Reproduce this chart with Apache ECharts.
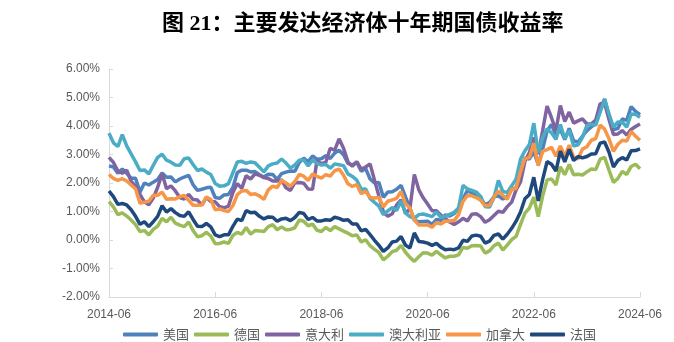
<!DOCTYPE html>
<html>
<head>
<meta charset="utf-8">
<script src="https://cdn.jsdelivr.net/npm/echarts@6/dist/echarts.min.js"></script>
<style>html,body{margin:0;padding:0;background:#fff}#c{width:674px;height:342px}</style>
</head>
<body>
<div id="c"></div>
<script>
// Monthly categories 2014-06 .. 2024-06
const categories = [];
for (let y = 2014, m = 6; y < 2024 || (y === 2024 && m <= 6); ) {
  categories.push(y + '-' + (m < 10 ? '0' + m : m));
  m++; if (m > 12) { m = 1; y++; }
}
const xTickLabels = ['2014-06','2016-06','2018-06','2020-06','2022-06','2024-06'];
const seriesNames = ['美国','德国','意大利','澳大利亚','加拿大','法国'];

const us = [2.60,2.56,2.34,2.49,2.34,2.17,2.17,
1.68,2.00,1.93,2.03,2.12,2.35,2.20,2.21,2.04,2.14,2.21,2.27,
1.94,1.74,1.78,1.83,1.85,1.49,1.46,1.58,1.60,1.84,2.37,2.45,
2.45,2.39,2.40,2.29,2.21,2.31,2.30,2.12,2.33,2.38,2.42,2.41,
2.72,2.87,2.74,2.95,2.83,2.85,2.96,2.86,3.05,3.15,2.99,2.69,
2.63,2.73,2.41,2.51,2.14,2.00,2.02,1.50,1.68,1.69,1.78,1.92,
1.51,1.13,0.70,0.64,0.65,0.66,0.55,0.72,0.69,0.88,0.84,0.93,
1.11,1.44,1.74,1.65,1.58,1.45,1.24,1.31,1.52,1.55,1.44,1.52,
1.79,1.83,2.32,2.89,2.84,3.10,2.65,3.19,3.83,4.05,3.68,3.88,
3.52,3.92,3.48,3.44,3.64,3.84,3.97,4.11,4.59,4.95,4.37,3.88,
3.91,4.25,4.20,4.68,4.51,4.40];

const de = [1.35,1.16,0.89,0.95,0.84,0.70,0.54,
0.30,0.33,0.18,0.37,0.49,0.76,0.64,0.80,0.59,0.52,0.47,0.63,
0.33,0.11,0.15,0.27,0.14,-0.13,-0.12,-0.07,-0.12,0.16,0.27,0.21,
0.44,0.21,0.33,0.32,0.30,0.47,0.54,0.36,0.46,0.36,0.37,0.43,
0.70,0.66,0.50,0.56,0.34,0.30,0.44,0.33,0.47,0.39,0.31,0.24,
0.15,0.18,-0.07,0.01,-0.20,-0.33,-0.44,-0.70,-0.57,-0.41,-0.36,-0.19,
-0.43,-0.61,-0.75,-0.59,-0.45,-0.46,-0.53,-0.40,-0.52,-0.63,-0.57,-0.57,
-0.52,-0.26,-0.29,-0.20,-0.19,-0.21,-0.46,-0.38,-0.20,-0.11,-0.35,-0.18,
0.01,0.13,0.55,0.94,1.12,1.50,0.82,1.54,2.11,2.14,1.93,2.57,
2.29,2.65,2.29,2.31,2.28,2.39,2.49,2.47,2.84,2.90,2.45,2.02,
2.16,2.41,2.30,2.58,2.66,2.50];

const it = [2.90,2.72,2.43,2.34,2.45,2.06,1.89,
1.60,1.34,1.24,1.47,1.85,2.33,1.80,1.90,1.72,1.49,1.44,1.60,
1.42,1.40,1.22,1.50,1.35,1.34,1.17,1.13,1.19,1.67,1.98,1.81,
2.26,2.14,2.32,2.27,2.19,2.16,2.07,2.07,2.11,1.83,1.74,2.01,
2.02,1.99,1.79,1.78,2.78,2.68,2.73,3.22,3.15,3.55,3.22,2.74,
2.59,2.75,2.49,2.56,2.67,2.10,1.54,0.99,0.83,0.92,1.23,1.41,
0.93,1.10,2.30,1.77,1.48,1.26,1.03,1.03,0.87,0.76,0.63,0.54,
0.64,0.76,0.67,0.90,0.92,0.82,0.62,0.71,0.86,1.01,0.97,1.17,
1.33,1.76,2.04,2.76,3.07,3.60,3.01,3.84,4.70,4.29,3.84,4.72,
4.16,4.49,4.10,4.18,4.25,4.07,4.08,4.21,4.78,4.80,4.23,3.70,
3.72,3.84,3.68,3.88,3.98,4.07];

const au = [3.75,3.41,3.28,3.70,3.30,3.02,2.74,
2.44,2.46,2.32,2.62,2.90,3.01,2.80,2.73,2.63,2.62,2.85,2.88,
2.65,2.44,2.49,2.38,2.30,1.98,1.89,1.90,1.98,2.36,2.74,2.76,
2.69,2.74,2.71,2.55,2.39,2.60,2.67,2.70,2.84,2.70,2.52,2.63,
2.80,2.82,2.60,2.80,2.69,2.63,2.65,2.52,2.67,2.64,2.61,2.32,
2.23,2.10,1.78,1.79,1.46,1.32,1.19,0.89,1.02,1.14,1.03,1.37,
0.95,0.82,0.76,0.89,0.91,0.87,0.82,0.98,0.79,0.83,0.90,0.97,
1.12,1.92,1.79,1.74,1.68,1.53,1.17,1.16,1.49,2.09,1.70,1.67,
1.90,2.14,2.84,3.13,3.35,4.10,3.06,3.60,3.90,3.76,3.53,4.05,
3.55,3.85,3.30,3.34,3.60,4.02,4.06,4.03,4.49,4.93,4.42,3.96,
4.14,4.14,3.96,4.42,4.41,4.31];

const ca = [2.30,2.16,2.09,2.15,2.07,1.93,1.79,
1.29,1.33,1.36,1.57,1.57,1.68,1.43,1.45,1.44,1.52,1.56,1.39,
1.22,1.22,1.23,1.51,1.42,1.06,1.09,1.03,1.00,1.21,1.59,1.72,
1.74,1.60,1.62,1.55,1.42,1.76,1.89,1.84,2.10,2.00,1.89,2.05,
2.30,2.24,2.09,2.32,2.23,2.17,2.29,2.24,2.43,2.49,2.27,1.97,
1.88,1.94,1.62,1.71,1.49,1.47,1.49,1.16,1.36,1.41,1.46,1.70,
1.27,1.13,0.70,0.53,0.53,0.53,0.45,0.61,0.56,0.66,0.67,0.68,
0.89,1.35,1.56,1.55,1.49,1.39,1.20,1.22,1.51,1.72,1.57,1.43,
1.78,1.81,2.40,2.86,2.89,3.40,2.61,3.11,3.17,3.25,2.94,3.30,
2.92,3.33,2.90,2.85,3.19,3.27,3.50,3.56,4.03,3.89,3.55,3.11,
3.36,3.50,3.47,3.81,3.64,3.50];

const fr = [1.72,1.52,1.25,1.28,1.23,1.06,0.83,
0.55,0.64,0.47,0.64,0.83,1.20,0.98,1.10,0.96,0.86,0.83,0.99,
0.72,0.48,0.47,0.58,0.46,0.18,0.12,0.18,0.18,0.48,0.73,0.68,
1.03,0.96,0.97,0.83,0.74,0.81,0.80,0.66,0.74,0.76,0.68,0.79,
0.97,0.93,0.72,0.79,0.67,0.67,0.71,0.69,0.80,0.76,0.69,0.71,
0.56,0.56,0.32,0.37,0.19,-0.01,-0.19,-0.40,-0.28,-0.07,-0.04,0.12,
-0.18,-0.28,0.25,-0.05,-0.07,-0.11,-0.19,-0.12,-0.25,-0.34,-0.32,-0.34,
-0.28,-0.01,-0.05,0.14,0.17,0.13,-0.11,-0.04,0.16,0.21,0.03,0.20,
0.41,0.66,0.98,1.45,1.60,2.20,1.37,2.12,2.75,2.66,2.42,3.12,
2.74,3.18,2.79,2.93,2.88,2.93,3.02,3.03,3.40,3.44,3.08,2.56,
2.79,2.89,2.81,3.13,3.14,3.20];

const colors = ['#4F81BD','#9BBB59','#8064A2','#4BACC6','#F79646','#1F497D'];
const values = [us, de, it, au, ca, fr];

const chart = echarts.init(document.getElementById('c'));
const labelIdx = xTickLabels.map(l => categories.indexOf(l));
chart.setOption({
  animation: false,
  title: {
    text: '图 21：主要发达经济体十年期国债收益率',
    left: 157, top: 8,
    textStyle: { fontSize: 22, fontWeight: 'bold', color: '#000', fontFamily: '"Liberation Serif", "Noto Sans CJK SC", serif' }
  },
  legend: {
    data: seriesNames,
    left: 118, top: 323,
    itemWidth: 35, itemHeight: 4, itemGap: 5,
    icon: 'roundRect',
    textStyle: { fontSize: 13, color: '#595959', fontFamily: '"Noto Sans CJK SC", sans-serif' }
  },
  grid: { left: 109, right: 34, top: 69, bottom: 45 },
  xAxis: [{
    type: 'category', data: categories, boundaryGap: false,
    axisLine: { show: false }, axisTick: { show: false },
    axisLabel: { interval: (i) => labelIdx.indexOf(i) >= 0, margin: 12, fontSize: 12, color: '#595959', fontFamily: '"Liberation Sans", sans-serif' }
  }, {
    type: 'category', data: categories, boundaryGap: false, position: 'bottom',
    axisLine: { show: true, onZero: true, lineStyle: { color: '#d9d9d9', width: 1 } },
    axisTick: { show: true, inside: true, length: 5, interval: (i) => labelIdx.indexOf(i) >= 0, lineStyle: { color: '#d9d9d9' } },
    axisLabel: { show: false }
  }],
  yAxis: {
    type: 'value', min: -2, max: 6, interval: 1,
    splitLine: { show: false },
    axisLine: { show: true, lineStyle: { color: '#d9d9d9', width: 1 } },
    axisTick: { show: true, inside: true, length: 4, lineStyle: { color: '#d9d9d9' } },
    axisLabel: { formatter: v => v.toFixed(2) + '%', margin: 9, fontSize: 12, color: '#595959', fontFamily: '"Liberation Sans", sans-serif' }
  },
  series: seriesNames.map((n, i) => ({
    name: n, type: 'line', data: values[i], xAxisIndex: 0,
    symbol: 'none', color: colors[i],
    lineStyle: { width: 3.5, color: colors[i] }
  }))
});
</script>
</body>
</html>
